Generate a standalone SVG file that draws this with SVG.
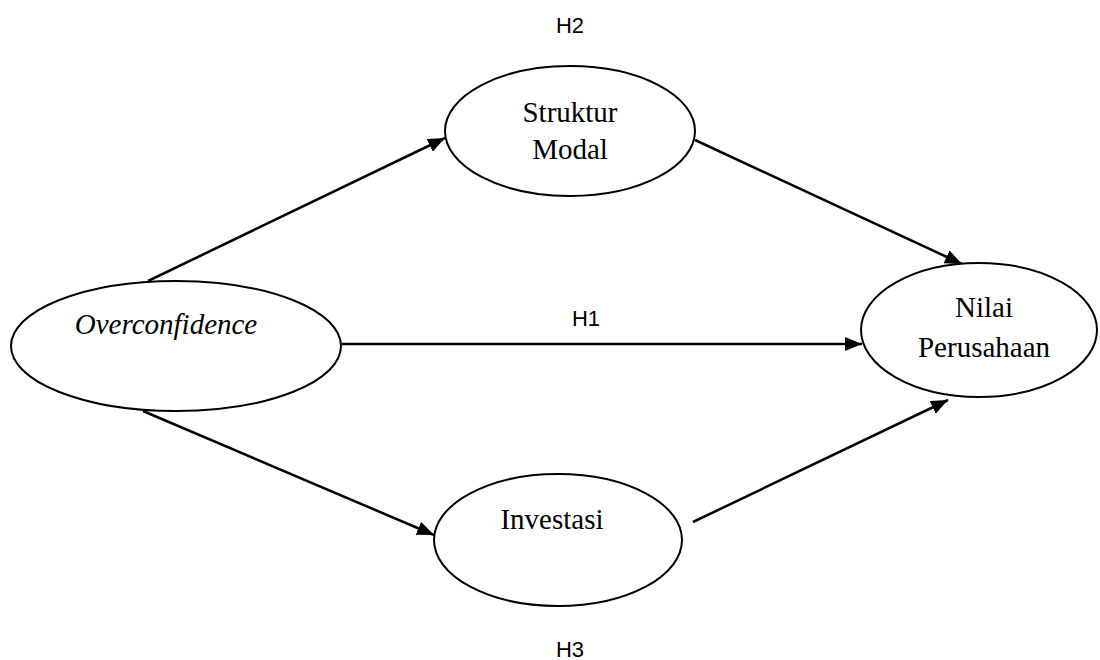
<svg xmlns="http://www.w3.org/2000/svg" width="1100" height="660" viewBox="0 0 1100 660">
<style>
.node{fill:#fff;stroke:#000;stroke-width:2}
.lbl{font-family:"Liberation Serif","Times New Roman",serif;font-size:29px;fill:#000;text-anchor:middle}
.h{font-family:"Liberation Sans",Arial,sans-serif;font-size:22px;fill:#000;text-anchor:middle}
.edge{stroke:#000;stroke-width:2.5;fill:none;marker-end:url(#arr)}
</style>
<defs>
<marker id="arr" markerUnits="userSpaceOnUse" markerWidth="20" markerHeight="16" refX="17" refY="7" orient="auto">
<path d="M0,0 L17,7 L0,14 Z" fill="#000"/>
</marker>
</defs>
<rect width="1100" height="660" fill="#fff"/>
<g id="connectors">
<line class="edge" x1="148" y1="281" x2="445" y2="138"/>
<line class="edge" x1="695" y1="140" x2="962" y2="264"/>
<line class="edge" x1="342" y1="344" x2="862" y2="344"/>
<line class="edge" x1="143" y1="411" x2="434" y2="535"/>
<line class="edge" x1="693" y1="522" x2="948" y2="400"/>
</g>
<g id="overconfidence">
<ellipse class="node" cx="176" cy="346" rx="165" ry="65"/>
<text class="lbl" x="166" y="334" font-style="italic">Overconfidence</text>
</g>
<g id="struktur-modal">
<ellipse class="node" cx="570" cy="131" rx="125" ry="65"/>
<text class="lbl" x="570" y="122">Struktur</text>
<text class="lbl" x="570" y="159">Modal</text>
</g>
<g id="nilai-perusahaan">
<ellipse class="node" cx="979" cy="330" rx="118" ry="67"/>
<text class="lbl" x="984" y="317">Nilai</text>
<text class="lbl" x="984" y="357">Perusahaan</text>
</g>
<g id="investasi">
<ellipse class="node" cx="558" cy="540" rx="124" ry="66"/>
<text class="lbl" x="552" y="529">Investasi</text>
</g>
<g id="labels">
<text class="h" x="570" y="33">H2</text>
<text class="h" x="586" y="326">H1</text>
<text class="h" x="570" y="657">H3</text>
</g>
</svg>
